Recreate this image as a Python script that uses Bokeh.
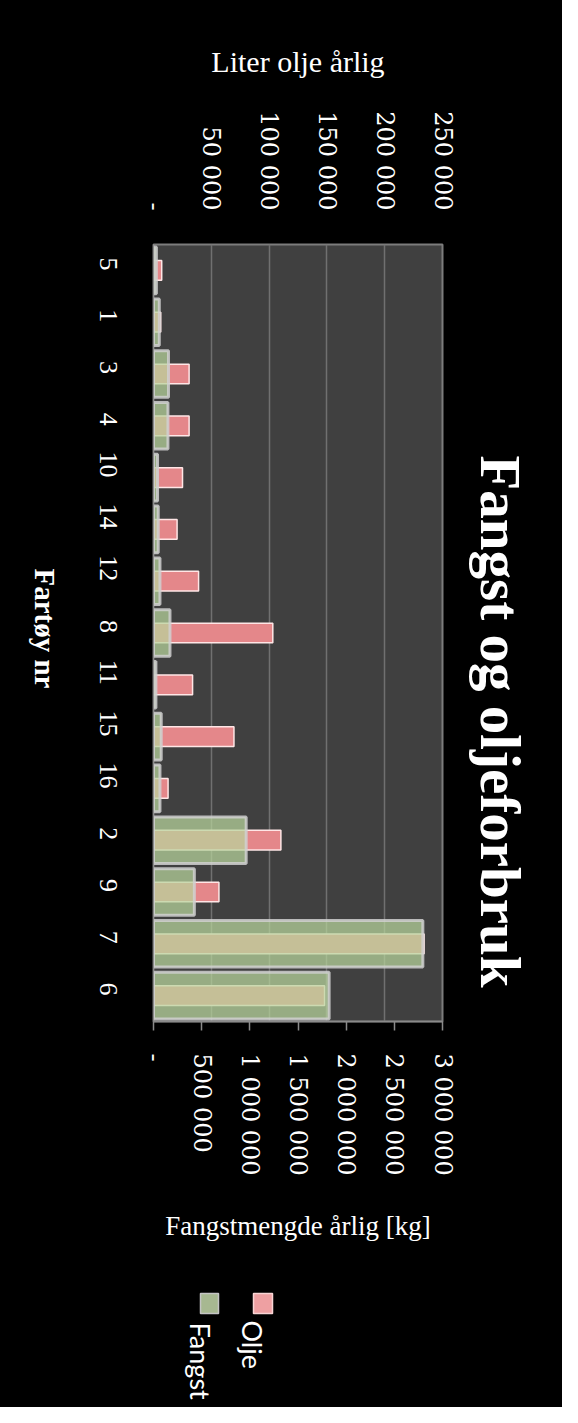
import math
from bokeh.plotting import figure
from bokeh.layouts import row, column
from bokeh.models import (ColumnDataSource, FactorRange, Range1d, LinearAxis,
                          FixedTicker, Grid)
from bokeh.core.properties import value
from bokeh.embed import file_html
from bokeh.resources import INLINE

# ---- data ----
categories = ["5", "1", "3", "4", "10", "14", "12", "8", "11", "15", "16", "2", "9", "7", "6"]
fangst = [30000, 60000, 156000, 150000, 42000, 49000, 67000, 171000, 25000, 80000,
          67000, 962000, 424000, 2796000, 1823000]
olje = [7100, 6300, 30800, 30800, 25100, 20400, 39000, 103200, 33800, 69600,
        12600, 110200, 56600, 234100, 148000]

fangst_ticks = [0, 500000, 1000000, 1500000, 2000000, 2500000, 3000000]
fangst_tick_labels = ["-", "500 000", "1 000 000", "1 500 000", "2 000 000", "2 500 000", "3 000 000"]
olje_ticks = [0, 50000, 100000, 150000, 200000, 250000]
olje_tick_labels = ["-", "50 000", "100 000", "150 000", "200 000", "250 000"]

title_text = "Fangst og oljeforbruk"
x_title = "Fangstmengde årlig [kg]"
x2_title = "Liter olje årlig"
y_title = "Fartøy nr"
series_names = ["Olje", "Fangst"]
series_colors = ["#eea0a2", "#a7b891"]

# ---- layout constants (pixels) ----
W, H = 562, 1407
LEFT_W = 70            # strip holding the rotated y title
MAIN_H = 1280          # main chart height; legend strip below
F_LEFT, F_RIGHT, F_TOP, F_BOTTOM = 153, 442, 244, 1021

BG = "#000000"
BLACK_STYLE = {"background-color": BG}


def blank(width, height, x0, x1, y0, y1):
    f = figure(width=width, height=height, x_range=Range1d(x0, x1), y_range=Range1d(y1, y0),
               output_backend="svg", toolbar_location=None,
               x_axis_location=None, y_axis_location=None,
               min_border=0, min_border_left=0, min_border_right=0,
               min_border_top=0, min_border_bottom=0,
               background_fill_color=BG, border_fill_color=BG, outline_line_color=None,
               styles=BLACK_STYLE)
    f.xgrid.visible = False
    f.ygrid.visible = False
    return f


# ---- main chart ----
src = ColumnDataSource(dict(cat=categories, fangst=fangst, olje=olje))

p = figure(width=W - LEFT_W, height=MAIN_H,
           y_range=FactorRange(factors=categories[::-1]),
           x_range=Range1d(0, fangst_ticks[-1]),
           output_backend="svg", toolbar_location=None,
           title=title_text, title_location="right",
           min_border_left=F_LEFT - LEFT_W, min_border_right=W - F_RIGHT,
           min_border_top=F_TOP, min_border_bottom=MAIN_H - F_BOTTOM,
           background_fill_color="#404040", border_fill_color=BG,
           outline_line_color="#7c7c7c", outline_line_width=2,
           styles=BLACK_STYLE)

p.extra_x_ranges = {"olje": Range1d(0, olje_ticks[-1])}

# grid from the secondary (olje) axis
p.xgrid.visible = False
p.ygrid.visible = False
p.add_layout(Grid(dimension=0, x_range_name="olje",
                  ticker=FixedTicker(ticks=olje_ticks[1:-1]),
                  grid_line_color="#707070", grid_line_width=1.5))

# bars
p.hbar(y="cat", left=0, right="olje", height=0.38, source=src, x_range_name="olje",
       fill_color="#e4878a", line_color="#ffe6e6", line_width=1.5)
p.hbar(y="cat", left=0, right="fangst", height=0.9, source=src,
       fill_color="#b8d69d", fill_alpha=0.72,
       line_color="#d0d0d0", line_width=3, line_alpha=0.85)

# bottom axis (Fangst)
bx = p.below[0]
bx.ticker = FixedTicker(ticks=fangst_ticks)
bx.major_label_overrides = dict(zip(fangst_ticks, fangst_tick_labels))
bx.major_label_orientation = -math.pi / 2
bx.major_label_text_font = "DejaVu Serif"
bx.major_label_text_font_size = "24px"
bx.major_label_text_color = "#ffffff"
bx.major_label_standoff = 23
bx.axis_line_color = "#8a8a8a"
bx.axis_line_width = 1.5
bx.major_tick_line_color = "#8a8a8a"
bx.major_tick_line_width = 1.5
bx.major_tick_out = 9
bx.major_tick_in = 0
bx.minor_tick_line_color = None
bx.axis_label = x_title
bx.axis_label_text_font = "Liberation Serif"
bx.axis_label_text_font_style = "normal"
bx.axis_label_text_font_size = "27px"
bx.axis_label_text_color = "#ffffff"
bx.axis_label_standoff = 32

# top axis (Olje)
tx = LinearAxis(x_range_name="olje", ticker=FixedTicker(ticks=olje_ticks))
tx.major_label_overrides = dict(zip(olje_ticks, olje_tick_labels))
tx.major_label_orientation = -math.pi / 2
tx.major_label_text_font = "DejaVu Serif"
tx.major_label_text_font_size = "24px"
tx.major_label_text_color = "#ffffff"
tx.major_label_standoff = 28
tx.axis_line_color = None
tx.major_tick_line_color = None
tx.minor_tick_line_color = None
tx.axis_label = x2_title
tx.axis_label_text_font = "Liberation Serif"
tx.axis_label_text_font_style = "normal"
tx.axis_label_text_font_size = "30px"
tx.axis_label_text_color = "#ffffff"
tx.axis_label_standoff = 30
p.add_layout(tx, "above")

# left (category) axis
ly = p.left[0]
ly.major_label_orientation = -math.pi / 2
ly.major_label_text_font = "Liberation Serif"
ly.major_label_text_font_size = "26px"
ly.major_label_text_color = "#ffffff"
ly.major_label_standoff = 39
ly.axis_line_color = "#8a8a8a"
ly.major_tick_line_color = None
ly.minor_tick_line_color = None

# title on the right, reading top to bottom
p.title.text_font = "Liberation Serif"
p.title.text_font_size = "57px"
p.title.text_font_style = "bold"
p.title.text_color = "#ffffff"
p.title.align = "left"
p.title.offset = 211
p.title.standoff = 53

# ---- left strip: y-axis title, reading top to bottom ----
lf = blank(LEFT_W, MAIN_H, 0, LEFT_W, 0, MAIN_H)
lf.text(x=[44], y=[(F_TOP + F_BOTTOM) / 2], text=[y_title], angle=-math.pi / 2,
        text_align="center", text_baseline="alphabetic",
        text_font=value("Liberation Serif"), text_font_style="bold",
        text_font_size="29px", text_color="#ffffff")

# ---- bottom strip: legend, rotated ----
bf = blank(W, H - MAIN_H, 0, W, MAIN_H, H)
leg_x = [262.5, 209]              # square centres (page px)
leg_text_x = [252, 200]           # text baselines
bf.rect(x=leg_x, y=[1303, 1303], width=[19, 18], height=[20, 20],
        fill_color=series_colors, line_color=["#f8d4d4", "#c4c4c4"], line_width=1.5)
bf.text(x=leg_text_x, y=[1320, 1322], text=series_names, angle=-math.pi / 2,
        text_align="left", text_baseline="alphabetic",
        text_font=value("Lato"), text_font_size="27px", text_color="#ffffff")

layout = column(row(lf, p, styles=BLACK_STYLE), bf, styles=BLACK_STYLE)

open("out.html", "w").write(file_html(layout, INLINE))
